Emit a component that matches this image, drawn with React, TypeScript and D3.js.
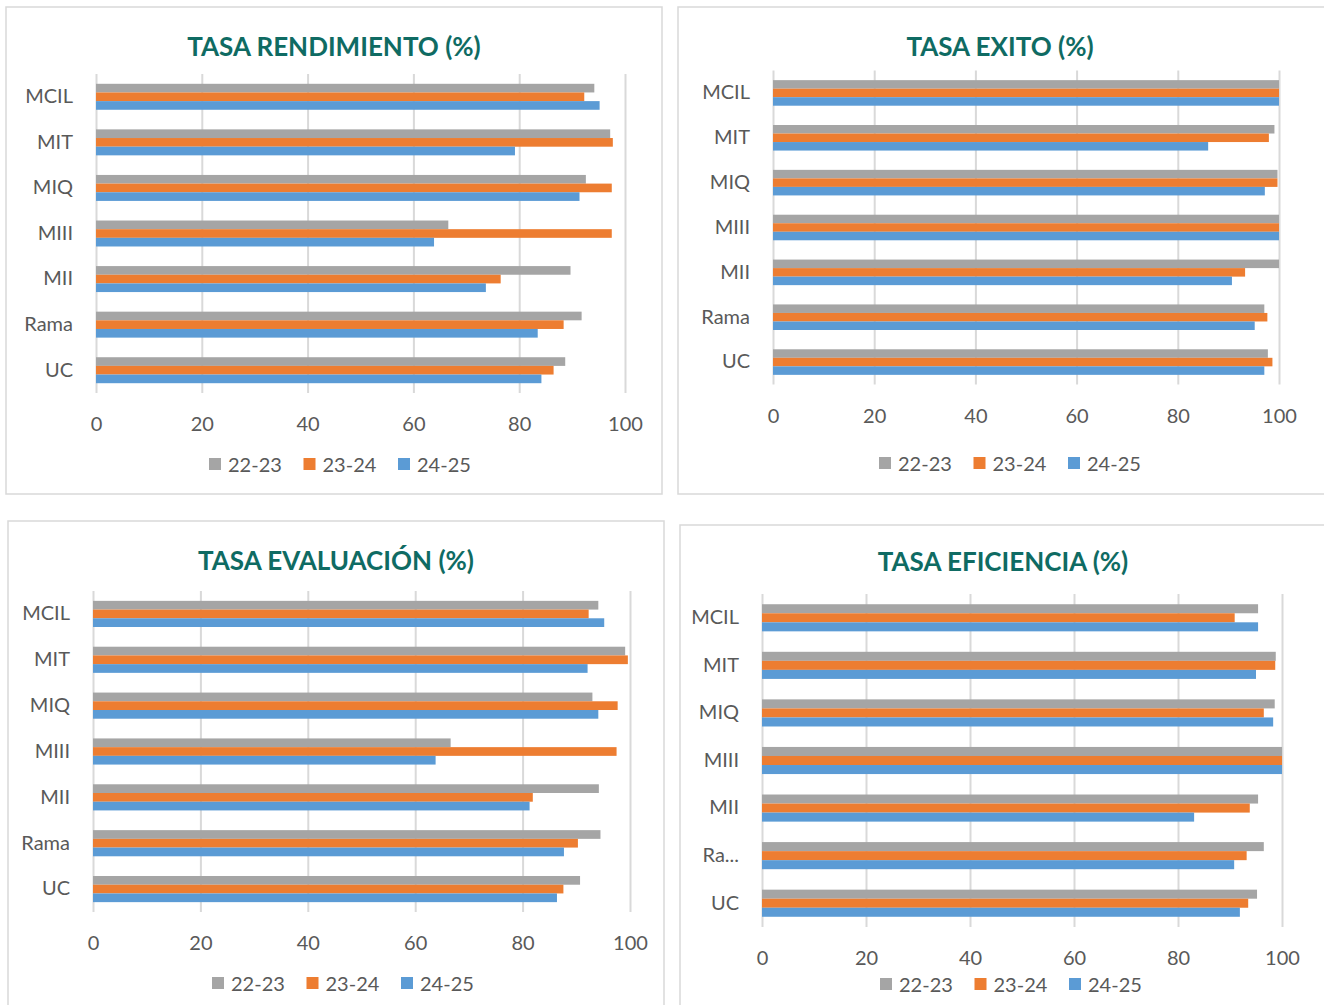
import React, { useRef, useEffect } from 'react'
import { select, scaleLinear, scaleBand, axisBottom, axisLeft } from 'd3'

const categories = ['MCIL', 'MIT', 'MIQ', 'MIII', 'MII', 'Rama', 'UC']
const seriesNames = ['22-23', '23-24', '24-25']
const seriesColors = ['#a5a5a5', '#ed7d31', '#5b9bd5']
const xTicks = [0, 20, 40, 60, 80, 100]

// TASA RENDIMIENTO (%)
const rendimiento2223 = [94.2, 97.2, 92.6, 66.6, 89.7, 91.8, 88.7]
const rendimiento2324 = [92.3, 97.7, 97.5, 97.5, 76.5, 88.4, 86.5]
const rendimiento2425 = [95.2, 79.2, 91.4, 63.9, 73.7, 83.5, 84.2]

// TASA EXITO (%)
const exito2223 = [100, 99.1, 99.7, 100, 100, 97.1, 97.8]
const exito2324 = [100, 98.0, 99.7, 100, 93.3, 97.7, 98.7]
const exito2425 = [100, 86.0, 97.2, 100, 90.7, 95.2, 97.1]

// TASA EVALUACIÓN (%)
const evaluacion2223 = [94.1, 99.1, 93.0, 66.6, 94.2, 94.5, 90.7]
const evaluacion2324 = [92.3, 99.6, 97.7, 97.5, 81.9, 90.3, 87.6]
const evaluacion2425 = [95.2, 92.1, 94.1, 63.8, 81.3, 87.7, 86.4]

// TASA EFICIENCIA (%)
const eficiencia2223 = [95.4, 98.8, 98.6, 100, 95.4, 96.5, 95.2]
const eficiencia2324 = [90.9, 98.7, 96.5, 100, 93.8, 93.2, 93.5]
const eficiencia2425 = [95.4, 95.0, 98.3, 100, 83.1, 90.8, 91.9]

const FONT = 'Lato, "Open Sans", sans-serif'

type PanelProps = {
  title: string
  values: number[][]
  box: [number, number, number, number]
  plot: [number, number, number, number]
  titleX: number
  titleY: number
  legendX: number
  legendY: number
  truncate?: boolean
}

function Panel({ title, values, box, plot, titleX, titleY, legendX, legendY, truncate }: PanelProps) {
  const gRef = useRef<SVGGElement>(null)

  useEffect(() => {
    const g = select(gRef.current)
    g.selectAll('*').remove()
    const [x0, x1, y0, y1] = plot

    g.append('rect')
      .attr('x', box[0]).attr('y', box[1])
      .attr('width', box[2]).attr('height', box[3])
      .attr('fill', '#fff')
      .attr('stroke', '#d9d9d9')
      .attr('stroke-width', 1.5)

    g.append('text')
      .attr('x', titleX).attr('y', titleY)
      .attr('text-anchor', 'middle')
      .attr('dominant-baseline', 'central')
      .attr('font-family', FONT)
      .attr('font-weight', 700)
      .attr('font-size', 26)
      .attr('fill', '#0f6b63')
      .text(title)

    const x = scaleLinear().domain([0, 100]).range([x0, x1])
    const y = scaleBand().domain(categories).range([y0, y1]).paddingInner(0.43).paddingOuter(0.215)
    const inner = scaleBand().domain(seriesNames).range([0, y.bandwidth()])

    const xAxis = g.append('g')
      .attr('transform', `translate(0,${y1})`)
      .call(axisBottom(x).tickValues(xTicks).tickSize(-(y1 - y0)))
    xAxis.select('.domain').remove()
    xAxis.selectAll('line').attr('stroke', '#d9d9d9').attr('stroke-width', 2)
    xAxis.selectAll('text')
      .attr('y', 31).attr('dy', '0.35em')
      .attr('font-family', FONT).attr('font-size', 20).attr('fill', '#595959')

    // the last panel is too narrow for "Rama", Excel cuts it to "Ra..."
    const yAxis = g.append('g')
      .attr('transform', `translate(${x0},0)`)
      .call(axisLeft(y).tickSize(0).tickPadding(23)
        .tickFormat(d => (truncate && d === 'Rama' ? 'Ra...' : d)))
    yAxis.select('.domain').remove()
    yAxis.selectAll('text')
      .attr('font-family', FONT).attr('font-size', 20).attr('fill', '#595959')

    seriesNames.forEach((s, si) => {
      g.append('g')
        .selectAll('rect')
        .data(values[si])
        .join('rect')
        .attr('x', x(0))
        .attr('y', (d, i) => (y(categories[i]) as number) + (inner(s) as number))
        .attr('width', d => x(d) - x(0))
        .attr('height', inner.bandwidth())
        .attr('fill', seriesColors[si])
    })

    const legend = g.append('g').attr('transform', `translate(${legendX},${legendY})`)
    seriesNames.forEach((s, si) => {
      const item = legend.append('g').attr('transform', `translate(${si * 94.5},0)`)
      item.append('rect').attr('x', 0).attr('y', -6).attr('width', 12).attr('height', 12)
        .attr('fill', seriesColors[si])
      item.append('text').attr('x', 19).attr('y', 0).attr('dominant-baseline', 'central')
        .attr('font-family', FONT).attr('font-size', 20).attr('fill', '#595959')
        .text(s)
    })
  }, [])

  return <g ref={gRef} />
}

export default function App() {
  return (
    <div style={{ position: 'absolute', left: 0, top: 0 }}>
      <svg width={1324} height={1005} style={{ display: 'block', background: '#fff' }}>
        <Panel
          title="TASA RENDIMIENTO (%)"
          values={[rendimiento2223, rendimiento2324, rendimiento2425]}
          box={[6, 7, 656, 487]}
          plot={[96, 625, 74, 393]}
          titleX={334} titleY={46}
          legendX={209} legendY={464}
        />
        <Panel
          title="TASA EXITO (%)"
          values={[exito2223, exito2324, exito2425]}
          box={[678, 7, 660, 487]}
          plot={[773, 1279, 70.5, 384.5]}
          titleX={1000} titleY={46}
          legendX={879} legendY={463}
        />
        <Panel
          title="TASA EVALUACIÓN (%)"
          values={[evaluacion2223, evaluacion2324, evaluacion2425]}
          box={[8, 521, 656, 500]}
          plot={[93, 630, 591, 912]}
          titleX={336} titleY={560}
          legendX={212} legendY={983}
        />
        <Panel
          title="TASA EFICIENCIA (%)"
          values={[eficiencia2223, eficiencia2324, eficiencia2425]}
          box={[680, 525, 660, 500]}
          plot={[762, 1282, 594, 927]}
          titleX={1003} titleY={561}
          legendX={880} legendY={984}
          truncate
        />
      </svg>
    </div>
  )
}
